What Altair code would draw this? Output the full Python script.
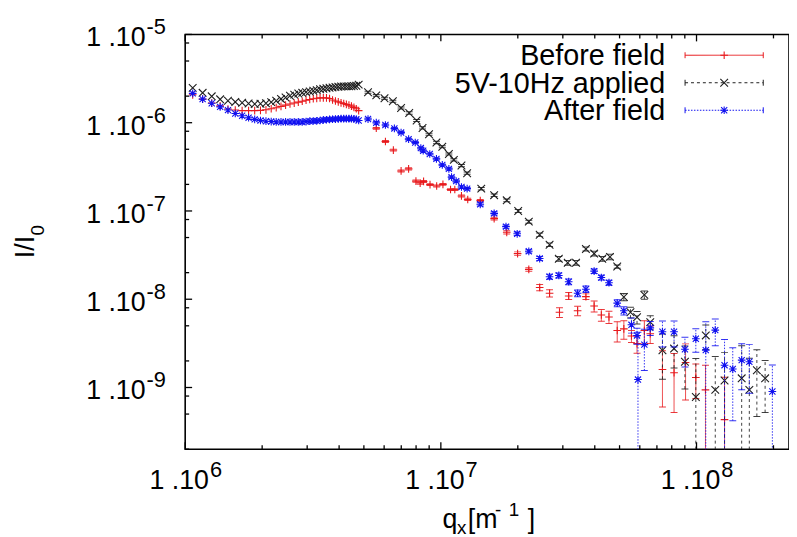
import altair as alt
import pandas as pd

# ---------------- data (q in units of 1e6 m^-1, intensity I/I0) ----------------
q_dense = [1.07, 1.17, 1.27, 1.37, 1.47, 1.57, 1.67, 1.77, 1.87, 1.97,
           2.07, 2.17, 2.27, 2.37, 2.47, 2.57, 2.67, 2.77, 2.87, 2.97,
           3.07, 3.17, 3.27, 3.37, 3.47, 3.57, 3.67, 3.77, 3.87, 3.97,
           4.07, 4.17, 4.27, 4.37, 4.47, 4.57, 4.67, 4.77]

before_dense = [2.07e-6, 1.85e-6, 1.67e-6, 1.55e-6, 1.43e-6, 1.39e-6, 1.37e-6, 1.37e-6, 1.37e-6, 1.38e-6,
                1.40e-6, 1.44e-6, 1.48e-6, 1.53e-6, 1.58e-6, 1.63e-6, 1.67e-6, 1.71e-6, 1.75e-6, 1.80e-6,
                1.83e-6, 1.87e-6, 1.89e-6, 1.91e-6, 1.91e-6, 1.91e-6, 1.88e-6, 1.81e-6, 1.76e-6, 1.72e-6,
                1.68e-6, 1.65e-6, 1.61e-6, 1.58e-6, 1.54e-6, 1.49e-6, 1.44e-6, 1.37e-6]
applied_dense = [2.48e-6, 2.18e-6, 1.99e-6, 1.84e-6, 1.77e-6, 1.72e-6, 1.68e-6, 1.65e-6, 1.63e-6, 1.64e-6,
                 1.66e-6, 1.71e-6, 1.77e-6, 1.86e-6, 1.93e-6, 2.02e-6, 2.08e-6, 2.14e-6, 2.18e-6, 2.22e-6,
                 2.26e-6, 2.30e-6, 2.34e-6, 2.39e-6, 2.42e-6, 2.46e-6, 2.49e-6, 2.51e-6, 2.54e-6, 2.56e-6,
                 2.57e-6, 2.58e-6, 2.58e-6, 2.58e-6, 2.59e-6, 2.61e-6, 2.62e-6, 2.70e-6]
after_dense = [2.15e-6, 1.85e-6, 1.66e-6, 1.51e-6, 1.39e-6, 1.27e-6, 1.20e-6, 1.14e-6, 1.09e-6, 1.06e-6,
               1.04e-6, 1.03e-6, 1.02e-6, 1.02e-6, 1.02e-6, 1.02e-6, 1.02e-6, 1.02e-6, 1.02e-6, 1.03e-6,
               1.04e-6, 1.045e-6, 1.05e-6, 1.06e-6, 1.075e-6, 1.08e-6, 1.09e-6, 1.095e-6, 1.10e-6, 1.105e-6,
               1.11e-6, 1.11e-6, 1.11e-6, 1.11e-6, 1.11e-6, 1.105e-6, 1.095e-6, 1.06e-6]

before_q = [5.59, 6.07, 6.52, 6.99, 7.48, 7.99, 8.30, 8.56, 9.07, 9.63,
            10.19, 10.91, 11.34, 12.04, 12.74, 14.26, 16.16, 18.1, 19.96, 22.08,
            24.35, 26.62, 29.11, 31.62, 34.27, 36.93, 39.77, 42.44, 45.45, 48.96,
            51.97, 55.66, 58.52, 62.51, 65.93, 73.58, 81.68, 90.6, 99.38, 108.4, 128.7]
before_I = [8.65e-7, 6.12e-7, 4.9e-7, 2.84e-7, 3.0e-7, 2.18e-7, 2.07e-7, 2.16e-7, 1.99e-7, 1.92e-7,
            2.0e-7, 1.75e-7, 1.75e-7, 1.48e-7, 1.35e-7, 1.31e-7, 8.18e-8, 5.73e-8, 3.29e-8, 2.18e-8,
            1.36e-8, 1.17e-8, 7.11e-9, 1.09e-8, 7.41e-9, 1.07e-8, 8.37e-9, 6.63e-9, 6.3e-9, 4.42e-9,
            4.62e-9, 3.83e-9, 3.14e-9, 4.42e-9, 4.06e-9, 1.6e-9, 1.47e-9, 1.92e-9, 1.3e-9, 9.4e-10, 4.33e-10]
before_err = [0.02e-6, 0.015e-6, 0.012e-6, 0.008e-6, 0.008e-6, 0.006e-6, 0.006e-6, 0.006e-6, 0.005e-6, 0.005e-6,
              0.005e-6, 0.004e-6, 0.004e-6, 0.004e-6, 0.004e-6, 0.004e-6, 3e-9, 2.5e-9, 1.5e-9, 1.0e-9,
              1.1e-9, 1.1e-9, 0.9e-9, 1.0e-9, 0.9e-9, 0.8e-9, 1.2e-9, 1.0e-9, 1.0e-9, 1.15e-9,
              1.1e-9, 0.6e-9, 0.7e-9, 1.3e-9, 0.9e-9, 1.0e-9, 0.95e-9, 1.2e-9, 0.55e-9, 0.85e-9, 0.87e-9]

applied_q = [5.19, 5.59, 6.02, 6.49, 6.99, 7.52, 8.04, 8.48, 8.99, 9.61,
             10.13, 10.75, 11.24, 12.04, 12.67, 14.39, 16.16, 18.1, 20.07, 22.08,
             24.35, 26.62, 28.93, 31.35, 33.79, 36.93, 39.77, 42.8, 45.86, 48.96,
             51.97, 55.17, 58.52, 62.51, 65.93, 73.58, 81.68, 90.09, 99.38, 108.7,
             118.4, 128.7, 150.2, 160.9, 172.2, 185.5]
applied_I = [2.21e-6, 2.04e-6, 1.89e-6, 1.75e-6, 1.47e-6, 1.29e-6, 1.06e-6, 8.72e-7, 7.41e-7, 5.97e-7,
             5.34e-7, 4.42e-7, 3.79e-7, 3.27e-7, 2.68e-7, 1.79e-7, 1.51e-7, 1.32e-7, 1.0e-7, 7.57e-8,
             5.37e-8, 4.15e-8, 2.87e-8, 2.59e-8, 2.59e-8, 3.71e-8, 3.29e-8, 2.87e-8, 3.02e-8, 2.35e-8,
             1.06e-8, 7.11e-9, 6.25e-9, 1.12e-8, 5.5e-9, 2.64e-9, 2.76e-9, 1.96e-9, 7.8e-10, 3.89e-9,
             9.4e-10, 1.2e-9, 1.27e-9, 9.4e-10, 1.57e-9, 1.27e-9]
applied_err = [0.06e-6, 0.05e-6, 0.05e-6, 0.05e-6, 0.04e-6, 0.04e-6, 0.03e-6, 0.025e-6, 0.02e-6, 0.02e-6,
               0.015e-6, 0.012e-6, 0.011e-6, 0.01e-6, 0.008e-6, 0.006e-6, 0.005e-6, 0.005e-6, 0.004e-6, 0.003e-6,
               2.5e-9, 2.0e-9, 1.8e-9, 1.6e-9, 1.6e-9, 2.0e-9, 2.0e-9, 1.8e-9, 2.2e-9, 1.0e-9,
               1.0e-9, 1.0e-9, 1.0e-9, 1.2e-9, 1.0e-9, 1.4e-9, 1.1e-9, 1.0e-9, 1.35e-9, 1.2e-9,
               1.3e-9, 1.3e-9, 1.7e-9, 1.2e-9, 1.1e-9, 0.75e-9]

after_q = [5.19, 5.59, 6.07, 6.58, 6.99, 7.48, 7.94, 8.35, 8.53, 9.05,
           9.61, 10.13, 10.75, 11.01, 11.48, 12.04, 12.67, 14.26, 16.16, 17.98,
           19.89, 22.08, 24.35, 26.62, 28.93, 31.62, 34.27, 36.93, 39.77, 42.44,
           45.45, 48.96, 51.97, 55.66, 58.52, 59.02, 62.51, 65.93, 73.58, 81.68,
           90.09, 99.38, 108.7, 118.4, 128.7, 138.6, 150.2, 160.9, 198.0]
after_I = [1.10e-6, 1.0e-6, 9.42e-7, 8.61e-7, 7.73e-7, 6.52e-7, 5.97e-7, 5.16e-7, 4.82e-7, 4.42e-7,
           3.89e-7, 3.33e-7, 3.0e-7, 2.42e-7, 2.18e-7, 1.87e-7, 1.79e-7, 1.19e-7, 9.4e-8, 6.65e-8,
           5.51e-8, 3.49e-8, 2.89e-8, 1.8e-8, 1.86e-8, 1.58e-8, 1.17e-8, 1.3e-8, 2.08e-8, 1.76e-8,
           1.54e-8, 9.04e-9, 7.41e-9, 5.13e-9, 3.89e-9, 1.23e-9, 3.06e-9, 4.74e-9, 4.28e-9, 4.28e-9,
           2.71e-9, 3.57e-9, 2.65e-9, 4.47e-9, 1.79e-9, 1.62e-9, 2.04e-9, 1.96e-9, 9.02e-10]
after_err = [0.03e-6, 0.03e-6, 0.025e-6, 0.02e-6, 0.02e-6, 0.015e-6, 0.015e-6, 0.012e-6, 0.012e-6, 0.01e-6,
             0.01e-6, 0.008e-6, 0.008e-6, 0.007e-6, 0.006e-6, 0.006e-6, 0.006e-6, 0.005e-6, 4e-9, 3e-9,
             2.5e-9, 1.5e-9, 1.5e-9, 1.2e-9, 1.2e-9, 1.2e-9, 1.0e-9, 1.1e-9, 1.2e-9, 1.1e-9,
             1.0e-9, 0.8e-9, 0.8e-9, 1.0e-9, 0.8e-9, 3.0e-9, 1.5e-9, 0.85e-9, 1.4e-9, 1.4e-9,
             1.0e-9, 1.06e-9, 2.9e-9, 1.5e-9, 1.7e-9, 1.2e-9, 1.1e-9, 1.1e-9, 0.9e-9]

series_names = ["Before field", "5V-10Hz applied", "After field"]
series_colors = ["#e8191c", "#1e1e1e", "#1010f0"]

x_major = [1e6, 1e7, 1e8]
x_major_exp = ["6", "7", "8"]
x_minor = [2e6, 3e6, 4e6, 5e6, 6e6, 7e6, 8e6, 9e6,
           2e7, 3e7, 4e7, 5e7, 6e7, 7e7, 8e7, 9e7, 2e8]
y_major = [1e-9, 1e-8, 1e-7, 1e-6, 1e-5]
y_major_exp = ["-9", "-8", "-7", "-6", "-5"]
y_minor = [2e-10, 5e-10, 8e-10, 2e-9, 5e-9, 8e-9, 2e-8, 5e-8, 8e-8,
           2e-7, 5e-7, 8e-7, 2e-6, 5e-6, 8e-6]

# ---------------- layout / styles ----------------
W, H = 610, 419
FONT = "Liberation Sans"
XS = alt.Scale(type="log", domain=[1e6, 2.3e8], nice=False)
YS = alt.Scale(type="log", domain=[2e-10, 1e-5], nice=False)

PLUS = "M-1,0L1,0M0,-1L0,1"
CROSS = "M-1,-1L1,1M-1,1L1,-1"
STAR = "M-1,0L1,0M0,-1L0,1M-0.8,-0.8L0.8,0.8M-0.8,0.8L0.8,-0.8"
shapes = [PLUS, CROSS, STAR]
dashes = [[1, 0], [3, 3], [1.5, 1.5]]


def xenc(field):
    return alt.X(f"{field}:Q", scale=XS, axis=None)


def yenc(field):
    return alt.Y(f"{field}:Q", scale=YS, axis=None)


layers = []

series = [
    (q_dense, before_dense, before_q, before_I, before_err),
    (q_dense, applied_dense, applied_q, applied_I, applied_err),
    (q_dense, after_dense, after_q, after_I, after_err),
]

for k, (qd, Id, qs, Is, es) in enumerate(series):
    color = series_colors[k]
    pts = pd.DataFrame({"q": [v * 1e6 for v in list(qd) + list(qs)],
                        "I": list(Id) + list(Is)})
    eb = pd.DataFrame({"q": [v * 1e6 for v in qs], "I": Is, "e": es})
    eb["lo"] = (eb["I"] - eb["e"]).clip(lower=1e-13)
    eb["hi"] = eb["I"] + eb["e"]

    layers.append(alt.Chart(eb).mark_rule(color=color, strokeWidth=1, strokeDash=dashes[k],
                                          opacity=0.85, clip=True)
                  .encode(x=xenc("q"), y=yenc("lo"), y2="hi:Q"))
    for end in ["lo", "hi"]:
        layers.append(alt.Chart(eb).mark_tick(color=color, orient="horizontal", size=7,
                                              thickness=1, opacity=0.85, clip=True)
                      .encode(x=xenc("q"), y=yenc(end)))
    layers.append(alt.Chart(pts).mark_point(shape=shapes[k], filled=False, color=color,
                                            size=60, strokeWidth=1.1, opacity=1, clip=True)
                  .encode(x=xenc("q"), y=yenc("I")))

# ---------------- inward ticks ----------------
xmaj = pd.DataFrame({"v": x_major, "e": x_major_exp, "b": ["1 .10"] * len(x_major)})
xmin = pd.DataFrame({"v": x_minor})
ymaj = pd.DataFrame({"v": y_major, "e": y_major_exp, "b": ["1 .10"] * len(y_major)})
ymin = pd.DataFrame({"v": y_minor})

tick_style = dict(color="black", strokeWidth=1.3)
for df, ln in [(xmaj, 7), (xmin, 4)]:
    layers.append(alt.Chart(df).mark_rule(**tick_style)
                  .encode(x=xenc("v"), y=alt.value(H), y2=alt.value(H - ln)))
    layers.append(alt.Chart(df).mark_rule(**tick_style)
                  .encode(x=xenc("v"), y=alt.value(0), y2=alt.value(ln)))
for df, ln in [(ymaj, 7), (ymin, 4)]:
    layers.append(alt.Chart(df).mark_rule(**tick_style)
                  .encode(y=yenc("v"), x=alt.value(0), x2=alt.value(ln)))

# ---------------- tick labels ----------------
layers.append(alt.Chart(xmaj).mark_text(font=FONT, fontSize=27, align="right", baseline="alphabetic",
                                        dx=24, color="black")
              .encode(x=xenc("v"), y=alt.value(H + 40), text="b:N"))
layers.append(alt.Chart(xmaj).mark_text(font=FONT, fontSize=22, align="left", baseline="alphabetic",
                                        dx=25, color="black")
              .encode(x=xenc("v"), y=alt.value(H + 28), text="e:N"))
layers.append(alt.Chart(ymaj).mark_text(font=FONT, fontSize=27, align="right", baseline="alphabetic",
                                        dy=12, color="black")
              .encode(y=yenc("v"), x=alt.value(-40), text="b:N"))
layers.append(alt.Chart(ymaj).mark_text(font=FONT, fontSize=22, align="left", baseline="alphabetic",
                                        dy=0, color="black")
              .encode(y=yenc("v"), x=alt.value(-39), text="e:N"))

# ---------------- axis titles ----------------
one = pd.DataFrame({"a": [0]})


def label(txt, x, y, size, angle=0, align="left"):
    return alt.Chart(one).mark_text(text=txt, font=FONT, fontSize=size, angle=angle, align=align,
                                    baseline="alphabetic", color="black").encode(
        x=alt.value(x), y=alt.value(y))


layers += [
    label("q", 260, 499, 27),
    label("x", 274.5, 505, 19),
    label("[m", 285.5, 499, 27),
    label("-", 313, 486, 19),
    label("1", 327, 486, 19),
    label("]", 346, 499, 27),
    label("I/I", -153, 226, 27, angle=270),
    label("0", -143, 203, 19, angle=270),
]

# ---------------- legend ----------------
for k, name in enumerate(series_names):
    cy = 21 + 27.8 * k
    color = series_colors[k]
    layers.append(label(name, 485, cy + 10, 29, align="right"))
    layers.append(alt.Chart(one).mark_rule(color=color, strokeWidth=1, strokeDash=dashes[k])
                  .encode(x=alt.value(505), x2=alt.value(584), y=alt.value(cy)))
    for ex in [505, 584]:
        layers.append(alt.Chart(one).mark_rule(color=color, strokeWidth=1)
                      .encode(x=alt.value(ex), y=alt.value(cy - 3), y2=alt.value(cy + 3)))
    layers.append(alt.Chart(one).mark_point(shape=shapes[k], filled=False, color=color, size=60,
                                            strokeWidth=1.1, opacity=1)
                  .encode(x=alt.value(544.5), y=alt.value(cy)))

chart = alt.layer(*layers).properties(
    width=W, height=H,
    autosize=alt.AutoSizeParams(type="none"),
    padding={"left": 179, "top": 24, "right": 0, "bottom": 86},
    background="white",
).configure_view(stroke="black", strokeWidth=1.6)

chart.save("out.html", embed_options={"renderer": "svg", "actions": False})
